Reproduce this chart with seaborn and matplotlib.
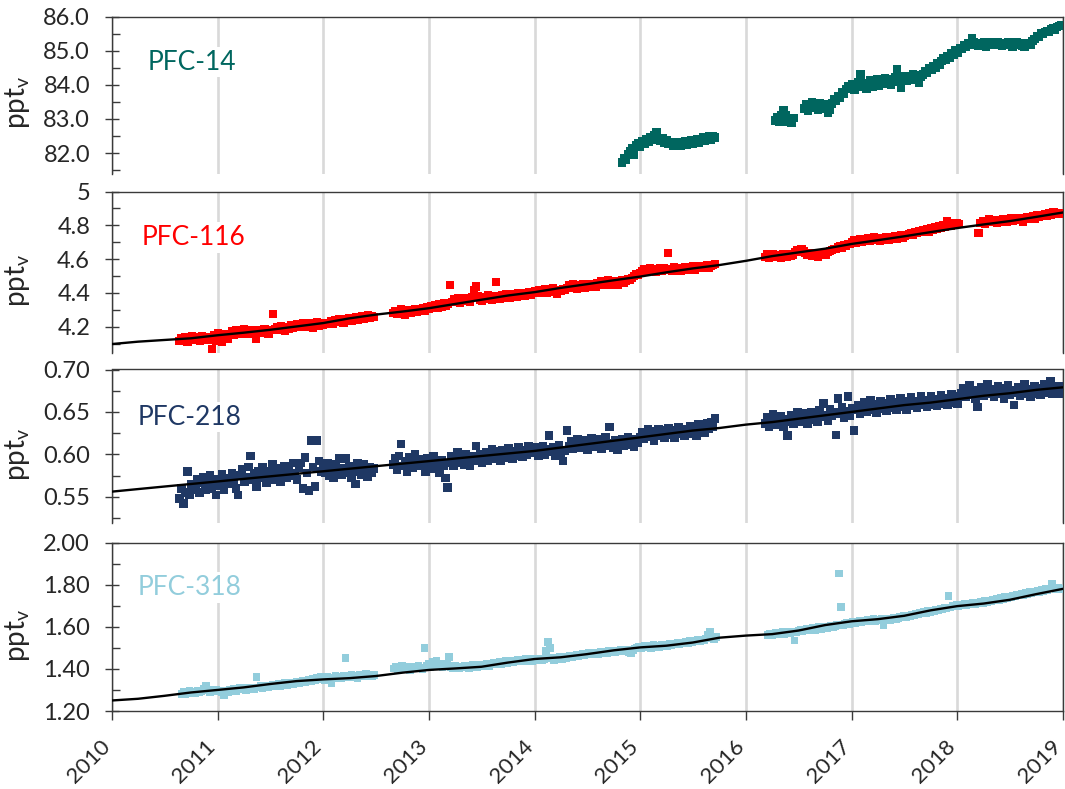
import numpy as np
import pandas as pd
import matplotlib
matplotlib.use("Agg")
import matplotlib.pyplot as plt
import matplotlib.dates as mdates
from matplotlib.ticker import MultipleLocator, FuncFormatter
from matplotlib.transforms import ScaledTranslation
import seaborn as sns

# ---------------------------------------------------------------------------
# Weekly in-situ mole fractions (ppt) per measurement campaign.
# Each campaign: first sampling date + list of weekly values.
# ---------------------------------------------------------------------------

# PFC-14
pfc14_starts = ["2014-10-30", "2016-04-12", "2016-07-19"]
pfc14_a = [81.72, 81.85, 81.80, 81.98, 82.05, 82.15, 81.95, 82.22, 82.30, 82.18,
           82.35, 82.28, 82.40, 82.32, 82.45, 82.38, 82.52, 82.60, 82.42, 82.35,
           82.44, 82.30, 82.38, 82.26, 82.33, 82.22, 82.30, 82.25, 82.32, 82.20,
           82.28, 82.35, 82.24, 82.30, 82.38, 82.27, 82.34, 82.40, 82.31, 82.38,
           82.45, 82.36, 82.42, 82.48, 82.40, 82.50, 82.45]
pfc14_b = [82.95, 83.05, 82.92, 83.10, 83.25, 83.12, 82.90, 82.98, 82.88, 83.02]
pfc14_c = [83.30, 83.42, 83.25, 83.38, 83.48, 83.32, 83.40, 83.28, 83.45, 83.35,
           83.42, 83.30, 83.18, 83.28, 83.45, 83.58, 83.52, 83.68, 83.62, 83.78,
           83.72, 83.88, 83.95, 83.90, 84.02, 83.85, 83.98, 84.08, 84.30, 83.95,
           84.05, 83.88, 84.00, 84.12, 83.95, 84.06, 84.15, 83.98, 84.10, 84.04,
           84.18, 84.08, 84.12, 84.00, 84.15, 84.22, 84.45, 84.10, 83.90, 84.18,
           84.25, 84.12, 84.25, 84.18, 84.30, 84.15, 84.28, 84.05, 84.22, 84.30,
           84.40, 84.35, 84.48, 84.45, 84.55, 84.50, 84.62, 84.58, 84.70, 84.78,
           84.72, 84.85, 84.80, 84.92, 84.88, 85.00, 84.95, 85.08, 85.05, 85.15,
           85.10, 85.22, 85.18, 85.37, 85.25, 85.20, 85.15, 85.22, 85.18, 85.25,
           85.12, 85.20, 85.24, 85.16, 85.22, 85.18, 85.26, 85.20, 85.14, 85.22,
           85.19, 85.25, 85.18, 85.12, 85.20, 85.24, 85.17, 85.22, 85.15, 85.10,
           85.18, 85.22, 85.16, 85.28, 85.35, 85.42, 85.40, 85.50, 85.48, 85.55,
           85.58, 85.54, 85.62, 85.65, 85.60, 85.70, 85.72, 85.76]

# PFC-116
pfc116_starts = ["2010-08-22", "2012-08-29", "2016-03-07", "2018-03-15"]
pfc116_a = [4.118, 4.135, 4.125, 4.142, 4.112, 4.130, 4.148, 4.122, 4.138, 4.128,
            4.115, 4.145, 4.132, 4.120, 4.140, 4.125, 4.066, 4.150, 4.118, 4.162,
            4.132, 4.108, 4.145, 4.155, 4.128, 4.158, 4.172, 4.150, 4.180, 4.165,
            4.175, 4.160, 4.185, 4.168, 4.155, 4.178, 4.170, 4.162, 4.130, 4.182,
            4.175, 4.165, 4.188, 4.172, 4.160, 4.180, 4.276, 4.185, 4.198, 4.180,
            4.205, 4.192, 4.175, 4.200, 4.188, 4.210, 4.195, 4.205, 4.218, 4.198,
            4.212, 4.225, 4.200, 4.215, 4.208, 4.222, 4.195, 4.212, 4.228, 4.205,
            4.218, 4.210, 4.225, 4.215, 4.222, 4.235, 4.218, 4.240, 4.228, 4.245,
            4.232, 4.225, 4.248, 4.238, 4.252, 4.235, 4.245, 4.258, 4.240, 4.255,
            4.262, 4.248, 4.258, 4.270, 4.252, 4.265, 4.260]
pfc116_b = [4.282, 4.295, 4.278, 4.290, 4.302, 4.285, 4.272, 4.298, 4.288, 4.280,
            4.295, 4.305, 4.285, 4.292, 4.300, 4.312, 4.295, 4.318, 4.305, 4.322,
            4.315, 4.328, 4.310, 4.332, 4.320, 4.338, 4.325, 4.335, 4.448, 4.345,
            4.362, 4.350, 4.368, 4.340, 4.358, 4.372, 4.352, 4.365, 4.348, 4.375,
            4.420, 4.438, 4.380, 4.360, 4.352, 4.375, 4.362, 4.385, 4.370, 4.358,
            4.380, 4.464, 4.378, 4.365, 4.388, 4.372, 4.392, 4.380, 4.368, 4.395,
            4.385, 4.375, 4.398, 4.388, 4.402, 4.380, 4.395, 4.408, 4.390, 4.400,
            4.412, 4.405, 4.418, 4.398, 4.412, 4.425, 4.402, 4.415, 4.408, 4.428,
            4.410, 4.395, 4.420, 4.412, 4.425, 4.415, 4.432, 4.445, 4.428, 4.450,
            4.438, 4.425, 4.448, 4.440, 4.455, 4.432, 4.445, 4.438, 4.452, 4.442,
            4.435, 4.458, 4.455, 4.468, 4.448, 4.462, 4.475, 4.450, 4.465, 4.458,
            4.472, 4.445, 4.468, 4.478, 4.460, 4.470, 4.482, 4.475, 4.488, 4.500,
            4.512, 4.505, 4.520, 4.528, 4.540, 4.522, 4.535, 4.548, 4.530, 4.542,
            4.525, 4.538, 4.550, 4.532, 4.545, 4.538, 4.635, 4.540, 4.528, 4.552,
            4.535, 4.545, 4.530, 4.548, 4.555, 4.538, 4.550, 4.542, 4.558, 4.535,
            4.552, 4.545, 4.560, 4.548, 4.555, 4.565, 4.550, 4.558, 4.568, 4.572]
pfc116_c = [4.615, 4.628, 4.608, 4.622, 4.632, 4.612, 4.625, 4.618, 4.605, 4.630,
            4.620, 4.612, 4.628, 4.618, 4.625, 4.642, 4.655, 4.648, 4.660, 4.645,
            4.638, 4.625, 4.635, 4.620, 4.632, 4.628, 4.615, 4.630, 4.622, 4.638,
            4.625, 4.640, 4.648, 4.655, 4.662, 4.658, 4.670, 4.675, 4.668, 4.685,
            4.680, 4.692, 4.688, 4.700, 4.712, 4.695, 4.708, 4.718, 4.702, 4.715,
            4.710, 4.722, 4.705, 4.718, 4.728, 4.712, 4.720, 4.708, 4.725, 4.718,
            4.732, 4.715, 4.728, 4.722, 4.735, 4.720, 4.730, 4.742, 4.725, 4.738,
            4.745, 4.748, 4.755, 4.742, 4.760, 4.752, 4.768, 4.758, 4.772, 4.765,
            4.778, 4.762, 4.782, 4.775, 4.790, 4.780, 4.795, 4.785, 4.800, 4.792,
            4.828, 4.805, 4.798, 4.812, 4.802, 4.815, 4.808]
pfc116_d = [4.752, 4.815, 4.828, 4.810, 4.822, 4.835, 4.818, 4.830, 4.825, 4.812,
            4.832, 4.822, 4.838, 4.828, 4.820, 4.835, 4.842, 4.828, 4.838, 4.830,
            4.845, 4.835, 4.822, 4.840, 4.848, 4.835, 4.845, 4.852, 4.840, 4.858,
            4.848, 4.862, 4.855, 4.868, 4.858, 4.872, 4.862, 4.878, 4.868, 4.875,
            4.865, 4.872]

# PFC-218
pfc218_starts = ["2010-08-22", "2012-08-29", "2016-03-07"]
pfc218_a = [0.548, 0.560, 0.542, 0.555, 0.580, 0.552, 0.565, 0.558, 0.562, 0.570,
            0.555, 0.566, 0.573, 0.558, 0.568, 0.575, 0.560, 0.565, 0.552, 0.570,
            0.563, 0.576, 0.558, 0.568, 0.572, 0.565, 0.578, 0.570, 0.560, 0.552,
            0.575, 0.582, 0.568, 0.573, 0.585, 0.598, 0.570, 0.578, 0.562, 0.580,
            0.572, 0.585, 0.575, 0.566, 0.580, 0.574, 0.588, 0.570, 0.578, 0.583,
            0.568, 0.576, 0.586, 0.572, 0.580, 0.575, 0.590, 0.578, 0.570, 0.584,
            0.590, 0.560, 0.596, 0.578, 0.557, 0.616, 0.585, 0.562, 0.616, 0.592,
            0.580, 0.585, 0.578, 0.590, 0.575, 0.582, 0.572, 0.588, 0.580, 0.595,
            0.576, 0.583, 0.595, 0.578, 0.586, 0.572, 0.580, 0.565, 0.590, 0.582,
            0.576, 0.588, 0.580, 0.574, 0.585, 0.578, 0.583]
pfc218_b = [0.588, 0.595, 0.582, 0.598, 0.612, 0.586, 0.592, 0.580, 0.596, 0.590,
            0.584, 0.600, 0.588, 0.594, 0.586, 0.592, 0.580, 0.595, 0.588, 0.583,
            0.598, 0.585, 0.590, 0.578, 0.593, 0.586, 0.572, 0.561, 0.590, 0.598,
            0.586, 0.595, 0.602, 0.590, 0.597, 0.588, 0.600, 0.593, 0.586, 0.598,
            0.592, 0.610, 0.595, 0.600, 0.590, 0.596, 0.602, 0.592, 0.600, 0.606,
            0.595, 0.603, 0.598, 0.592, 0.605, 0.600, 0.596, 0.607, 0.601, 0.595,
            0.604, 0.598, 0.608, 0.602, 0.597, 0.605, 0.600, 0.609, 0.603, 0.606,
            0.602, 0.608, 0.598, 0.605, 0.610, 0.600, 0.606, 0.622, 0.603, 0.608,
            0.598, 0.605, 0.611, 0.600, 0.592, 0.604, 0.628, 0.610, 0.615, 0.606,
            0.612, 0.618, 0.608, 0.614, 0.610, 0.617, 0.605, 0.613, 0.619, 0.609,
            0.615, 0.611, 0.618, 0.607, 0.614, 0.620, 0.610, 0.632, 0.613, 0.608,
            0.616, 0.605, 0.612, 0.618, 0.610, 0.615, 0.620, 0.611, 0.616, 0.609,
            0.618, 0.614, 0.620, 0.626, 0.618, 0.624, 0.629, 0.621, 0.627, 0.616,
            0.625, 0.630, 0.622, 0.628, 0.619, 0.626, 0.631, 0.623, 0.628, 0.620,
            0.627, 0.632, 0.624, 0.629, 0.622, 0.630, 0.626, 0.633, 0.624, 0.630,
            0.622, 0.635, 0.628, 0.633, 0.626, 0.636, 0.630, 0.638, 0.633, 0.642]
pfc218_c = [0.636, 0.644, 0.632, 0.640, 0.647, 0.635, 0.642, 0.638, 0.645, 0.633,
            0.641, 0.622, 0.639, 0.646, 0.636, 0.643, 0.650, 0.638, 0.645, 0.640,
            0.648, 0.636, 0.644, 0.650, 0.641, 0.647, 0.638, 0.652, 0.644, 0.660,
            0.646, 0.640, 0.653, 0.645, 0.650, 0.623, 0.666, 0.648, 0.655, 0.643,
            0.651, 0.668, 0.646, 0.654, 0.628, 0.652, 0.658, 0.648, 0.655, 0.661,
            0.650, 0.657, 0.664, 0.653, 0.659, 0.649, 0.656, 0.662, 0.654, 0.660,
            0.651, 0.658, 0.665, 0.655, 0.661, 0.652, 0.659, 0.666, 0.656, 0.662,
            0.653, 0.660, 0.667, 0.657, 0.663, 0.655, 0.661, 0.668, 0.658, 0.664,
            0.656, 0.662, 0.669, 0.659, 0.665, 0.657, 0.663, 0.670, 0.660, 0.666,
            0.658, 0.664, 0.671, 0.661, 0.667, 0.660, 0.668, 0.672, 0.678, 0.668,
            0.675, 0.681, 0.670, 0.676, 0.665, 0.656, 0.673, 0.679, 0.669, 0.676,
            0.682, 0.671, 0.677, 0.668, 0.674, 0.680, 0.672, 0.678, 0.666, 0.675,
            0.681, 0.670, 0.676, 0.658, 0.673, 0.679, 0.669, 0.675, 0.682, 0.671,
            0.677, 0.668, 0.674, 0.680, 0.672, 0.678, 0.670, 0.676, 0.683, 0.673,
            0.679, 0.686, 0.671, 0.677, 0.674, 0.680, 0.672, 0.678]

# PFC-318
pfc318_starts = ["2010-08-29", "2012-09-02", "2016-03-18"]
pfc318_a = [1.282, 1.290, 1.278, 1.288, 1.295, 1.284, 1.292, 1.286, 1.298, 1.289,
            1.294, 1.305, 1.320, 1.298, 1.291, 1.300, 1.293, 1.302, 1.296, 1.298,
            1.290, 1.275, 1.296, 1.288, 1.302, 1.300, 1.306, 1.296, 1.304, 1.310,
            1.302, 1.308, 1.300, 1.312, 1.305, 1.310, 1.302, 1.360, 1.312, 1.318,
            1.308, 1.315, 1.320, 1.312, 1.318, 1.325, 1.316, 1.322, 1.328, 1.320,
            1.326, 1.332, 1.324, 1.330, 1.336, 1.328, 1.334, 1.340, 1.332, 1.338,
            1.344, 1.336, 1.342, 1.348, 1.340, 1.352, 1.346, 1.358, 1.350, 1.362,
            1.355, 1.348, 1.360, 1.352, 1.330, 1.358, 1.365, 1.354, 1.362, 1.356,
            1.368, 1.452, 1.360, 1.366, 1.372, 1.362, 1.368, 1.358, 1.374, 1.365,
            1.370, 1.378, 1.366, 1.372, 1.364, 1.370]
pfc318_b = [1.402, 1.410, 1.398, 1.408, 1.415, 1.400, 1.406, 1.412, 1.396, 1.405,
            1.410, 1.402, 1.414, 1.407, 1.400, 1.500, 1.415, 1.425, 1.410, 1.432,
            1.418, 1.440, 1.412, 1.422, 1.408, 1.418, 1.426, 1.455, 1.410, 1.404,
            1.414, 1.408, 1.402, 1.412, 1.406, 1.416, 1.408, 1.403, 1.413, 1.418,
            1.410, 1.406, 1.415, 1.420, 1.412, 1.418, 1.424, 1.415, 1.422, 1.428,
            1.420, 1.426, 1.432, 1.424, 1.430, 1.436, 1.428, 1.434, 1.440, 1.432,
            1.438, 1.444, 1.436, 1.442, 1.438, 1.446, 1.440, 1.448, 1.436, 1.444,
            1.450, 1.442, 1.447, 1.440, 1.448, 1.485, 1.527, 1.500, 1.452, 1.442,
            1.450, 1.445, 1.455, 1.448, 1.458, 1.450, 1.456, 1.462, 1.455, 1.462,
            1.468, 1.460, 1.466, 1.472, 1.464, 1.470, 1.476, 1.468, 1.474, 1.470,
            1.478, 1.472, 1.480, 1.475, 1.482, 1.476, 1.484, 1.478, 1.486, 1.480,
            1.488, 1.482, 1.490, 1.484, 1.492, 1.486, 1.478, 1.475, 1.490, 1.496,
            1.500, 1.506, 1.498, 1.504, 1.510, 1.502, 1.508, 1.500, 1.512, 1.505,
            1.510, 1.504, 1.515, 1.508, 1.514, 1.510, 1.518, 1.512, 1.520, 1.515,
            1.522, 1.518, 1.526, 1.520, 1.528, 1.524, 1.532, 1.526, 1.534, 1.530,
            1.538, 1.532, 1.540, 1.536, 1.545, 1.560, 1.575, 1.548, 1.542, 1.550]
pfc318_c = [1.562, 1.568, 1.558, 1.566, 1.572, 1.564, 1.570, 1.575, 1.566, 1.572,
            1.578, 1.570, 1.576, 1.535, 1.574, 1.580, 1.586, 1.578, 1.584, 1.590,
            1.582, 1.588, 1.594, 1.586, 1.592, 1.598, 1.590, 1.596, 1.602, 1.594,
            1.600, 1.606, 1.598, 1.604, 1.610, 1.853, 1.694, 1.608, 1.614, 1.620,
            1.612, 1.618, 1.624, 1.616, 1.622, 1.628, 1.620, 1.628, 1.624, 1.632,
            1.626, 1.630, 1.636, 1.628, 1.634, 1.630, 1.638, 1.606, 1.635, 1.640,
            1.632, 1.638, 1.644, 1.636, 1.642, 1.648, 1.644, 1.650, 1.646, 1.654,
            1.650, 1.658, 1.655, 1.662, 1.658, 1.666, 1.662, 1.670, 1.666, 1.674,
            1.670, 1.678, 1.674, 1.682, 1.678, 1.686, 1.682, 1.690, 1.686, 1.745,
            1.692, 1.700, 1.696, 1.704, 1.698, 1.706, 1.700, 1.708, 1.702, 1.710,
            1.705, 1.712, 1.708, 1.716, 1.710, 1.718, 1.714, 1.722, 1.716, 1.724,
            1.720, 1.728, 1.724, 1.732, 1.728, 1.736, 1.732, 1.740, 1.736, 1.744,
            1.740, 1.748, 1.744, 1.752, 1.748, 1.756, 1.752, 1.760, 1.756, 1.764,
            1.760, 1.768, 1.762, 1.770, 1.766, 1.774, 1.770, 1.778, 1.774, 1.782,
            1.806, 1.785, 1.776, 1.784, 1.778, 1.782]

# Smoothed fits, quarterly from 2010-01 to 2019-01
fit_start, fit_end = "2010-01-01", "2019-01-01"
pfc116_fit = [4.098, 4.112, 4.122, 4.132, 4.150, 4.165, 4.182, 4.202, 4.222, 4.250,
              4.272, 4.290, 4.310, 4.335, 4.360, 4.385, 4.405, 4.430, 4.452, 4.475,
              4.497, 4.522, 4.545, 4.565, 4.590, 4.618, 4.640, 4.662, 4.690, 4.712,
              4.735, 4.760, 4.784, 4.805, 4.825, 4.850, 4.876]
pfc218_fit = [0.556, 0.559, 0.562, 0.565, 0.568, 0.571, 0.574, 0.577, 0.580, 0.583,
              0.586, 0.589, 0.592, 0.595, 0.598, 0.601, 0.604, 0.608, 0.612, 0.616,
              0.620, 0.624, 0.628, 0.631, 0.635, 0.638, 0.642, 0.646, 0.650, 0.654,
              0.658, 0.661, 0.665, 0.669, 0.672, 0.676, 0.679]
pfc318_fit = [1.250, 1.258, 1.272, 1.288, 1.300, 1.312, 1.328, 1.342, 1.350, 1.356,
              1.366, 1.382, 1.395, 1.402, 1.410, 1.430, 1.447, 1.455, 1.470, 1.488,
              1.502, 1.510, 1.525, 1.548, 1.558, 1.565, 1.582, 1.608, 1.626, 1.636,
              1.652, 1.678, 1.698, 1.710, 1.728, 1.755, 1.780]

gas_names = ["PFC-14", "PFC-116", "PFC-218", "PFC-318"]
gas_colors = ["#00665F", "#FF0000", "#1F3864", "#92CDDC"]
year_labels = [str(y) for y in range(2010, 2020)]


def campaign_frame(starts, series):
    parts = []
    for start, vals in zip(starts, series):
        dates = pd.date_range(start, periods=len(vals), freq="7D")
        parts.append(pd.DataFrame({"date": dates, "ppt": vals}))
    return pd.concat(parts, ignore_index=True)


fit_dates = pd.date_range(fit_start, fit_end, freq="QS")

panels = [
    dict(df=campaign_frame(pfc14_starts, [pfc14_a, pfc14_b, pfc14_c]), fit=None,
         ylim=(81.4, 86.0), major=1.0, minor=0.5, fmt=lambda v, p: f"{v:.1f}",
         box=(16.5, 173.5), lab=(0.037, 0.71), ms=36),
    dict(df=campaign_frame(pfc116_starts, [pfc116_a, pfc116_b, pfc116_c, pfc116_d]),
         fit=pfc116_fit, ylim=(4.045, 5.0), major=0.2, minor=0.1,
         fmt=lambda v, p: f"{v:g}", box=(191.5, 353), lab=(0.031, 0.716), ms=34),
    dict(df=campaign_frame(pfc218_starts, [pfc218_a, pfc218_b, pfc218_c]),
         fit=pfc218_fit, ylim=(0.519, 0.70), major=0.05, minor=0.025,
         fmt=lambda v, p: f"{v:.2f}", box=(369.5, 523), lab=(0.027, 0.69), ms=38),
    dict(df=campaign_frame(pfc318_starts, [pfc318_a, pfc318_b, pfc318_c]),
         fit=pfc318_fit, ylim=(1.20, 2.00), major=0.2, minor=0.1,
         fmt=lambda v, p: f"{v:.2f}", box=(542.5, 711), lab=(0.027, 0.734), ms=30),
]

# ---------------------------------------------------------------------------
sns.set_style("white")
plt.rcParams["font.family"] = ["Lato", "DejaVu Sans"]
plt.rcParams["mathtext.fontset"] = "custom"
plt.rcParams["mathtext.rm"] = "Lato"
plt.rcParams["mathtext.it"] = "Lato:italic"

W, H = 1065, 789
fig = plt.figure(figsize=(W / 100, H / 100), dpi=100)
spine_c = "#3a3a3a"
text_c = "#262626"
x0, x1 = pd.Timestamp("2010-01-01"), pd.Timestamp("2019-01-01")

for i, (p, name, color) in enumerate(zip(panels, gas_names, gas_colors)):
    top, bottom = p["box"]
    ax = fig.add_axes([112 / W, 1 - bottom / H, 951 / W, (bottom - top) / H])
    last = i == len(panels) - 1

    sns.scatterplot(data=p["df"], x="date", y="ppt", marker="s", s=p["ms"],
                    color=color, linewidth=0, edgecolor="none", ax=ax,
                    legend=False, zorder=3)
    if p["fit"] is not None:
        sns.lineplot(x=fit_dates, y=p["fit"], color="black", linewidth=1.7,
                     ax=ax, estimator=None, sort=False, zorder=4)

    ax.set_xlim(x0, x1)
    ax.set_ylim(*p["ylim"])
    ax.xaxis.set_major_locator(mdates.YearLocator())
    ax.xaxis.set_major_formatter(mdates.DateFormatter("%Y"))
    ax.yaxis.set_major_locator(MultipleLocator(p["major"]))
    ax.yaxis.set_minor_locator(MultipleLocator(p["minor"]))
    ax.yaxis.set_major_formatter(FuncFormatter(p["fmt"]))

    ax.set_axisbelow(True)
    ax.grid(False)
    ax.grid(axis="x", color="#d9d9d9", linewidth=1.9)

    for side in ["left", "top", "right", "bottom"]:
        ax.spines[side].set_visible(True)
        ax.spines[side].set_color(spine_c)
        ax.spines[side].set_linewidth(1.0)
    if not last:
        ax.spines["bottom"].set_visible(False)

    ax.tick_params(axis="y", which="major", direction="inout", length=10.5,
                   width=1.0, color=spine_c, labelsize=17, pad=10.5,
                   labelcolor=text_c, left=True, right=False)
    ax.tick_params(axis="y", which="minor", direction="in", length=5.5,
                   width=1.0, color=spine_c, left=True, right=False)

    if last:
        ax.tick_params(axis="x", which="major", direction="out", length=6.5,
                       width=1.0, color=spine_c, labelsize=16, pad=17,
                       labelcolor=text_c, bottom=True)
        ax.set_xticks(ax.get_xticks())
        ax.set_xticklabels(year_labels, rotation=45, ha="right", va="center",
                           rotation_mode="anchor")
        shift = ScaledTranslation(-5 / 100, 0, fig.dpi_scale_trans)
        for lbl in ax.get_xticklabels():
            lbl.set_transform(lbl.get_transform() + shift)
    else:
        ax.tick_params(axis="x", which="both", length=0, labelbottom=False,
                       bottom=False)

    ax.set_xlabel("")
    ax.set_ylabel(r"ppt$_{\mathregular{v}}$", fontsize=20, color=text_c)
    ax.yaxis.set_label_coords(-0.084, 0.45)

    ax.text(p["lab"][0], p["lab"][1], name, transform=ax.transAxes,
            color=color, fontsize=19, ha="left", va="center", zorder=6,
            bbox=dict(facecolor="white", edgecolor="none", pad=2.0))

fig.savefig("out.png", dpi=100)
